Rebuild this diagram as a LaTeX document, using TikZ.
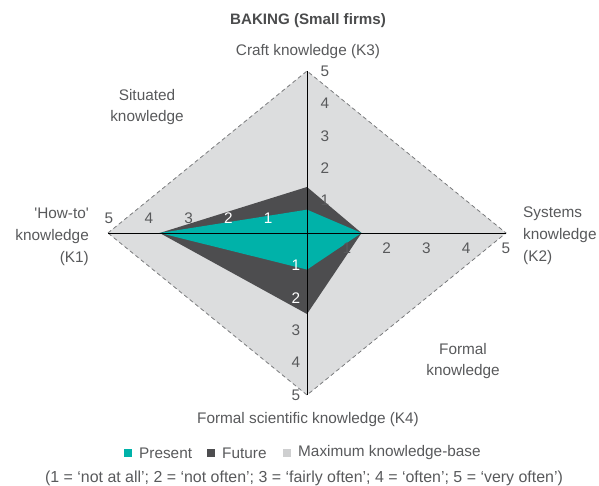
\documentclass[tikz,border=0pt]{standalone}
\usepackage{fontspec}
\setmainfont{Liberation Sans}
\usetikzlibrary{calc}
\definecolor{sarcelle}{HTML}{00B2A9}
\definecolor{futur}{HTML}{4D4D4F}
\definecolor{maxbase}{HTML}{DCDDDE}
\definecolor{texte}{HTML}{58595B}
\begin{document}
\begin{tikzpicture}[x=1bp,y=-1bp,
   etiq/.style={text=texte, font=\fontsize{15.4}{22}\selectfont, inner sep=0pt},
   axe/.style={black, line width=0.9bp},
   carre/.style={minimum size=8bp, inner sep=0pt}]
         \useasboundingbox (0,0) rectangle (599,486);
         % Centre et unités des axes
         \def\hx{39.8}
         \def\vy{32.4}
         \coordinate (O) at (307,233);
         
         % Losange de la base maximale (niveau 5)
         \coordinate (K1) at ($(O)+(-5*\hx,0)$);
         \coordinate (K2) at ($(O)+(5*\hx,0)$);
         \coordinate (K3) at ($(O)+(0,-5*\vy)$);
         \coordinate (K4) at ($(O)+(0,5*\vy)$);
         \fill[maxbase] (K1) -- (K3) -- (K2) -- (K4) -- cycle;
         \draw[texte!80, dash pattern=on 4bp off 3bp, line width=0.8bp] (K1) -- (K3) -- (K2) -- (K4) -- cycle;
         
         % Futur
         \coordinate (f1) at ($(O)+(-3.7*\hx,0)$);
         \coordinate (f3) at ($(O)+(0,-1.42*\vy)$);
         \coordinate (f2) at ($(O)+(1.37*\hx,0)$);
         \coordinate (f4) at ($(O)+(0,2.5*\vy)$);
         \fill[futur] (f1) -- (f3) -- (f2) -- (f4) -- cycle;
         
         % Présent
         \coordinate (p3) at ($(O)+(0,-0.72*\vy)$);
         \coordinate (p4) at ($(O)+(0,1.13*\vy)$);
         \fill[sarcelle] (f1) -- (p3) -- (f2) -- (p4) -- cycle;
         
         % Axes
         \draw[axe] (K1) -- (K2);
         \draw[axe] (K3) -- (K4);
         
         % Graduations
         \foreach \n in {1,...,5} {
            \ifnum\n<3 \def\c{white}\else\def\c{texte}\fi
            \node[etiq] (g3-\n) at ($(O)+(18,-\n*\vy)$) {\n};
            \node[etiq] (g2-\n) at ($(O)+(\n*\hx,15)$) {\n};
            \node[etiq, text=\c] (g4-\n) at ($(O)+(-11,\n*\vy)$) {\n};
            \node[etiq, text=\c] (g1-\n) at ($(O)+(-\n*\hx+1,-15)$) {\n};
         }
         
         % Titres des axes
         \node[font=\fontsize{15.2}{18}\selectfont\bfseries, text=texte!85!black, inner sep=0pt] (titre) at (308,21) {BAKING (Small firms)};
         \node[etiq] (n3) at (308,52) {Craft knowledge (K3)};
         \node[etiq] (n4) at (308,420) {Formal scientific knowledge (K4)};
         \node[etiq, align=right, anchor=east] (n1) at (89,237) {\textquotesingle How-to\textquotesingle\\knowledge\\(K1)};
         \node[etiq, align=left, anchor=west] (n2) at (523,236) {Systems\\knowledge\\(K2)};
         \node[etiq, align=center] (sit) at (147,107) {Situated\\knowledge};
         \node[etiq, align=center] (form) at (463,361) {Formal\\knowledge};
         
         % Légende
         \node[carre, fill=sarcelle] (l1) at (128,453) {};
         \node[etiq, anchor=west] (t1) at (139,453) {Present};
         \node[carre, fill=futur] (l2) at (211,453) {};
         \node[etiq, anchor=west] (t2) at (222,453) {Future};
         \node[carre, fill=maxbase!85!gray] (l3) at (287,453) {};
         \node[etiq, anchor=west] (t3) at (298,453) {Maximum knowledge-base};
         \node[etiq, font=\fontsize{16}{19}\selectfont] (note) at (304,478) {(1 = ‘not at all’; 2 = ‘not often’; 3 = ‘fairly often’; 4 = ‘often’; 5 = ‘very often’)};
      \end{tikzpicture}
\end{document}
